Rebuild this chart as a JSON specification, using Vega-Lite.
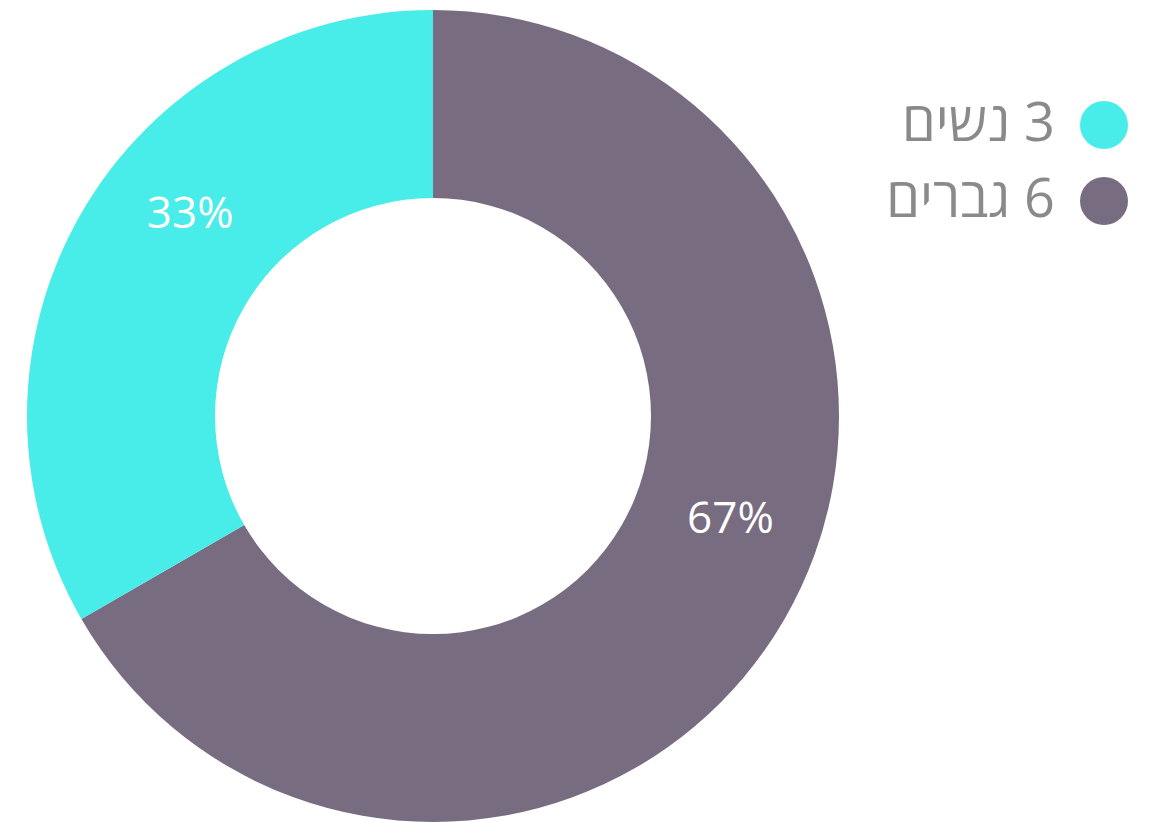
{
  "$schema": "https://vega.github.io/schema/vega-lite/v6.json",
  "width": 866,
  "height": 812,
  "padding": {"left": 0, "top": 10, "right": 290, "bottom": 0},
  "autosize": {"type": "none"},
  "background": "white",
  "config": {"view": {"stroke": null}},
  "data": {
    "values": [
      {"group": "‏6 גברים", "count": 6, "pct": "67%", "ord": 1},
      {"group": "‏3 נשים", "count": 3, "pct": "33%", "ord": 2}
    ]
  },
  "encoding": {
    "theta": {"field": "count", "type": "quantitative", "stack": true},
    "order": {"field": "ord", "type": "quantitative"}
  },
  "layer": [
    {
      "mark": {"type": "arc", "outerRadius": 406, "innerRadius": 218},
      "encoding": {
        "color": {
          "field": "group",
          "type": "nominal",
          "scale": {"domain": ["‏3 נשים", "‏6 גברים"], "range": ["#48ECE8", "#786D80"]},
          "legend": {
            "title": null,
            "orient": "none",
            "legendX": 1077,
            "legendY": 88,
            "symbolType": "circle",
            "symbolSize": 2304,
            "symbolStrokeWidth": 0,
            "rowPadding": 22,
            "labelAlign": "right",
            "labelBaseline": "middle",
            "labelOffset": -76,
            "labelLimit": 0,
            "labelFontSize": 54,
            "labelFont": "Open Sans, DejaVu Sans",
            "labelColor": "#8a8a8a",
            "padding": 0,
            "symbolOpacity": 1
          }
        }
      }
    },
    {
      "mark": {"type": "text", "radius": 315, "thetaOffset": 0.167, "fontSize": 44, "font": "Open Sans, DejaVu Sans", "color": "white"},
      "encoding": {
        "text": {"field": "pct", "type": "nominal"},
        "opacity": {"condition": {"test": "datum.ord === 2", "value": 1}, "value": 0}
      }
    },
    {
      "mark": {"type": "text", "radius": 315, "thetaOffset": -0.188, "fontSize": 44, "font": "Open Sans, DejaVu Sans", "color": "white"},
      "encoding": {
        "text": {"field": "pct", "type": "nominal"},
        "opacity": {"condition": {"test": "datum.ord === 1", "value": 1}, "value": 0}
      }
    }
  ]
}
